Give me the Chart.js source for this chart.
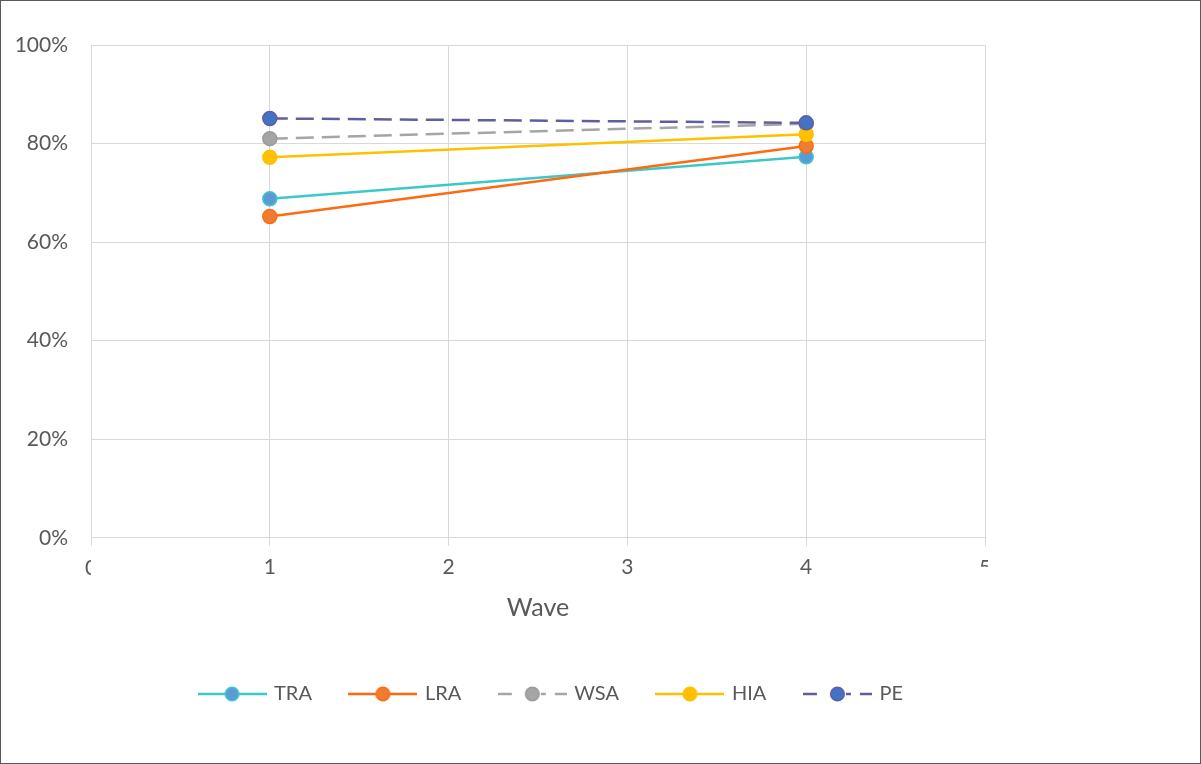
<!DOCTYPE html>
<html>
<head>
<meta charset="utf-8">
<script src="https://cdn.jsdelivr.net/npm/chart.js@4/dist/chart.umd.min.js"></script>
<style>
  html, body { margin: 0; padding: 0; background: #fff; }
  #wrap { width: 1201px; height: 764px; position: relative; }
</style>
</head>
<body>
<div id="wrap"><canvas id="c" width="1201" height="764"></canvas></div>
<script>
// Waves measured and share (%) per group
const waves = [1, 4];
const seriesNames = ['TRA', 'LRA', 'WSA', 'HIA', 'PE'];
const traValues = [68.8, 77.3];
const lraValues = [65.2, 79.5];
const wsaValues = [81.0, 84.0];
const hiaValues = [77.2, 81.9];
const peValues  = [85.1, 84.2];
const xTicks = [0, 1, 2, 3, 4, 5];
const yTicks = [0, 20, 40, 60, 80, 100];

const FONT = 'Lato, "Open Sans", sans-serif';
const TEXT = '#595959';

const styles = [
  { line: '#3CC8C8', fill: '#5B9BD5', border: '#3CC8C8', dash: [] },
  { line: '#FF6A10', fill: '#ED7D31', border: '#FF6A10', dash: [] },
  { line: '#A5A5A5', fill: '#A5A5A5', border: '#9A9A9A', dash: [18, 8] },
  { line: '#FFC000', fill: '#FFC000', border: '#FFC000', dash: [] },
  { line: '#5F5FA0', fill: '#4472C4', border: '#5F5FA0', dash: [18, 8] }
];
const valueSets = [traValues, lraValues, wsaValues, hiaValues, peValues];

// legend swatch: line with a marker in the middle
function swatch(s) {
  const cv = document.createElement('canvas');
  cv.width = 69; cv.height = 20;
  const g = cv.getContext('2d');
  g.strokeStyle = s.line; g.lineWidth = 2.5;
  if (s.dash.length) {
    g.beginPath(); g.moveTo(0, 10); g.lineTo(14, 10); g.stroke();
    g.beginPath(); g.moveTo(43, 10); g.lineTo(48, 10); g.stroke();
    g.beginPath(); g.moveTo(57, 10); g.lineTo(69, 10); g.stroke();
  } else {
    g.beginPath(); g.moveTo(0, 10); g.lineTo(69, 10); g.stroke();
  }
  g.beginPath(); g.arc(34.5, 10, 6.8, 0, Math.PI * 2);
  g.fillStyle = s.fill; g.fill();
  g.lineWidth = 1.5; g.strokeStyle = s.border; g.stroke();
  return cv;
}
const swatches = styles.map(swatch);

const datasets = seriesNames.map((name, i) => ({
  label: name,
  data: waves.map((w, j) => ({ x: w, y: valueSets[i][j] })),
  borderColor: styles[i].line,
  borderWidth: 2.5,
  borderDash: styles[i].dash,
  pointRadius: 7,
  pointHoverRadius: 7,
  pointBackgroundColor: styles[i].fill,
  pointBorderColor: styles[i].border,
  pointBorderWidth: 1.5,
  fill: false,
  tension: 0,
  order: seriesNames.length - i
}));

// outer frame and white background
const framePlugin = {
  id: 'frame',
  beforeDraw(chart) {
    const { ctx, width, height } = chart;
    ctx.save();
    ctx.fillStyle = '#fff';
    ctx.fillRect(0, 0, width, height);
    ctx.restore();
  },
  afterDraw(chart) {
    const { ctx, width, height } = chart;
    ctx.save();
    ctx.strokeStyle = '#595959';
    ctx.lineWidth = 1;
    ctx.strokeRect(0.5, 0.5, width - 1, height - 1);
    ctx.restore();
  }
};

// legend row sits a little right of the plot centre
const legendShift = {
  id: 'legendShift',
  afterLayout(chart) {
    const lg = chart.legend;
    if (lg) { lg.left += 51; lg.right += 51; }
  }
};

// end labels of the x axis are cut off by the plot edges
const edgeLabels = {
  id: 'edgeLabels',
  afterDraw(chart) {
    const { ctx } = chart;
    const xs = chart.scales.x;
    const area = chart.chartArea;
    const ty = area.bottom + 30;
    ctx.save();
    ctx.font = '21px ' + FONT;
    ctx.fillStyle = TEXT;
    ctx.textAlign = 'center';
    ctx.textBaseline = 'middle';
    let px = xs.getPixelForValue(xTicks[0]);
    ctx.save();
    ctx.beginPath(); ctx.rect(px - 20, ty - 15, 20, 30); ctx.clip();
    ctx.fillText(String(xTicks[0]), px, ty);
    ctx.restore();
    px = xs.getPixelForValue(xTicks[xTicks.length - 1]);
    ctx.save();
    ctx.beginPath(); ctx.rect(px - 20, ty - 15, 23, 14); ctx.clip();
    ctx.fillText(String(xTicks[xTicks.length - 1]), px, ty);
    ctx.restore();
    ctx.restore();
  }
};

new Chart(document.getElementById('c'), {
  type: 'line',
  data: { datasets },
  plugins: [framePlugin, legendShift, edgeLabels],
  options: {
    responsive: false,
    animation: false,
    layout: { padding: { left: 16, right: 216, top: 45, bottom: 50 } },
    plugins: {
      tooltip: { enabled: false },
      legend: {
        position: 'bottom',
        labels: {
          usePointStyle: true,
          pointStyleWidth: 64,
          padding: 39,
          color: TEXT,
          font: { family: FONT, size: 20 },
          generateLabels(chart) {
            return chart.data.datasets.map((ds, i) => ({
              text: ds.label,
              pointStyle: swatches[i],
              fillStyle: styles[i].fill,
              strokeStyle: styles[i].line,
              lineWidth: 0,
              fontColor: TEXT,
              hidden: false,
              datasetIndex: i
            }));
          }
        }
      }
    },
    scales: {
      x: {
        type: 'linear',
        min: 0, max: 5,
        afterBuildTicks(axis) { axis.ticks = xTicks.map(v => ({ value: v })); },
        grid: { color: '#D9D9D9', lineWidth: 1, tickLength: 8, drawTicks: true },
        border: { display: false },
        ticks: {
          color: TEXT,
          font: { family: FONT, size: 21 },
          padding: 9,
          callback: (v) => (v === xTicks[0] || v === xTicks[xTicks.length - 1]) ? '' : String(v)
        },
        title: {
          display: true, text: 'Wave', color: TEXT,
          font: { family: FONT, size: 25 },
          padding: { top: 4, bottom: 22 }
        }
      },
      y: {
        min: 0, max: 100,
        afterBuildTicks(axis) { axis.ticks = yTicks.map(v => ({ value: v })); },
        afterFit(axis) { axis.width = 75; },
        grid: { color: '#D9D9D9', lineWidth: 1, drawTicks: false },
        border: { display: false },
        ticks: {
          color: TEXT,
          font: { family: FONT, size: 21 },
          padding: 23,
          callback: (v) => v + '%'
        }
      }
    }
  }
});
</script>
</body>
</html>
